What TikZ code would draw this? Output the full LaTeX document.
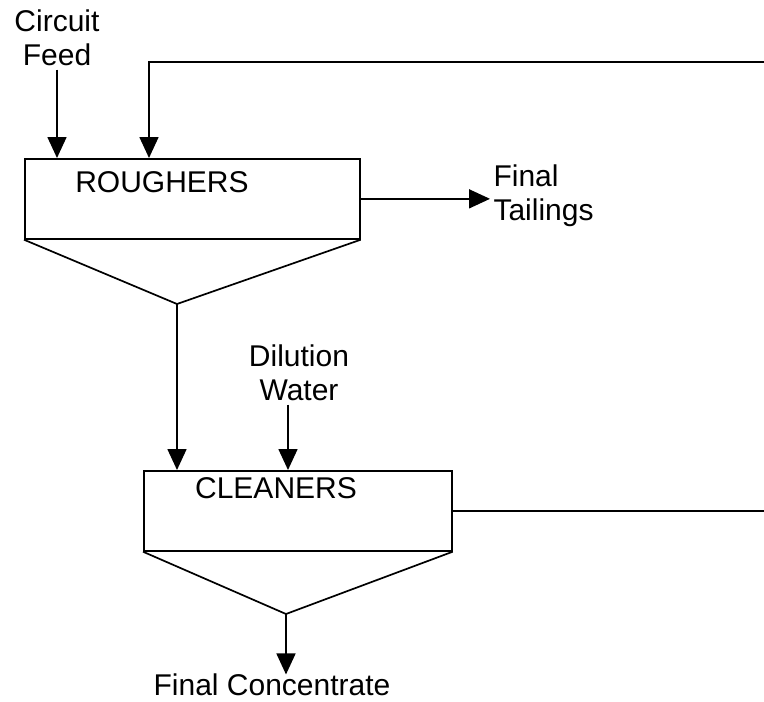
\documentclass[tikz,border=0pt]{standalone}
\usepackage{fontspec}
\setmainfont{Liberation Sans}
\usetikzlibrary{positioning,arrows.meta}
\tikzset{
        >={Triangle[length=21pt,width=19pt]}, % filled arrow heads
        every node/.style={font=\fontsize{30}{34}\selectfont},
        cell/.style={draw, rectangle, line width=1.7pt, inner sep=0pt, anchor=north west},
        flow/.style={line width=1.7pt},
}
\begin{document}
\begin{tikzpicture}[x=1pt,y=-1pt]
\useasboundingbox (0,0) rectangle (764,702);
% roughers
\node[cell, minimum width=335pt, minimum height=80pt] (rough) at (24,158) {};
\node (roughtxt) at (162,182) {ROUGHERS};
\coordinate (roughcone) at (177,304);
\draw[flow] (rough.south west) -- (roughcone) -- (rough.south east);
% cleaners
\node[cell, minimum width=308pt, minimum height=80pt] (clean) at (143,470) {};
\node (cleantxt) at (276,488) {CLEANERS};
\coordinate (cleancone) at (286,614);
\draw[flow] (clean.south west) -- (cleancone) -- (clean.south east);
% streams
\node[align=center] (feed) at (57,38) {Circuit\\Feed};
\node[align=left, anchor=west] (tail) at (490,196) {Final\\Tailings};
\node[align=center] (water) at (299,373) {Dilution\\Water};
\node (conc) at (272,685) {Final Concentrate};
\coordinate (recycle) at (764,62);
\coordinate (cleanout) at (764,518);
\draw[flow,->] (feed) -- (feed |- rough.north);
\draw[flow,->] (recycle) -| ([xshift=125pt]rough.north west);
\draw[flow,->] (rough.east) -- (tail.west |- rough.east);
\draw[flow,->] (roughcone) -- (roughcone |- clean.north);
\draw[flow,->] ([xshift=-11pt]water.south) -- ([xshift=-11pt]water.south |- clean.north);
\draw[flow] (clean.east) -- (cleanout |- clean.east);
\draw[flow,->] (cleancone) -- ([yshift=-4pt]cleancone |- conc.north);
\end{tikzpicture}
\end{document}
